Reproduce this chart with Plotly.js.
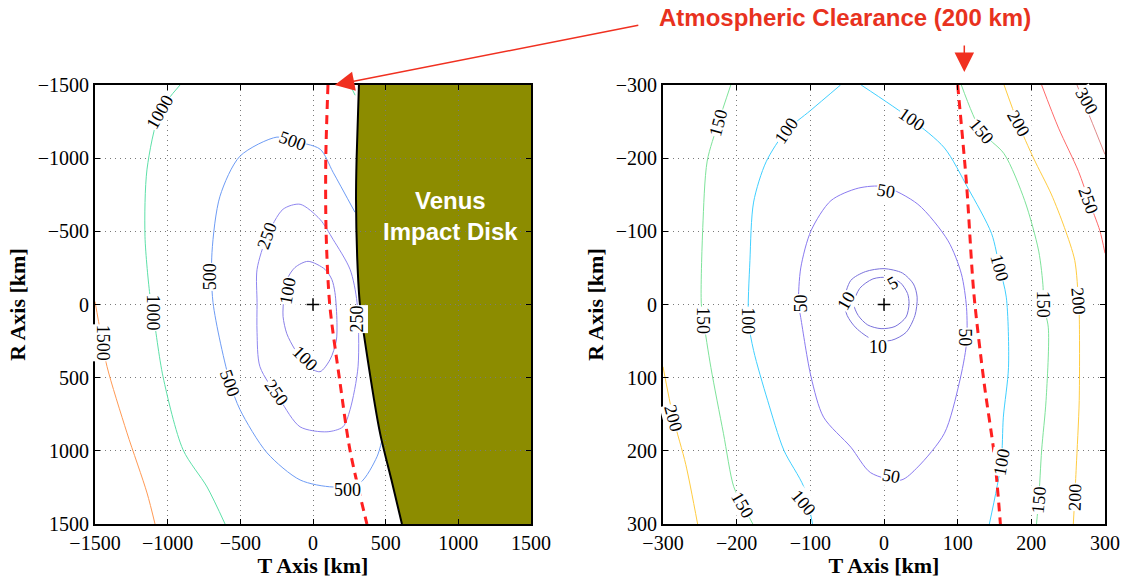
<!DOCTYPE html>
<html>
<head>
<meta charset="utf-8">
<script src="https://cdn.plot.ly/plotly-3.0.1.min.js"></script>
<style>html,body{margin:0;padding:0;background:#fff;}#chart{width:1125px;height:578px;}</style>
</head>
<body>
<div id="chart"></div>
<script>
// ---------- tick labels ----------
const leftTicks = [-1500, -1000, -500, 0, 500, 1000, 1500];
const rightTicks = [-300, -200, -100, 0, 100, 200, 300];

// ---------- LEFT PLOT contour lines (T, R in km) ----------
const L100_T = [-34, 83, 130, 151, 165, 160, 117, 48, -40, -124, -180, -206, -200, -179, -124, -34];
const L100_R = [-295, -240, -170, -82, 123, 250, 377, 459, 420, 308, 200, 82, -50, -171, -253, -295];

const L250_T = [-89, 48, 138, 255, 303, 310, 255, 206, 96, -89, -227, -365, -385, -385, -385, -316, -206, -89];
const L250_R = [-685, -582, -445, -240, -14, 425, 719, 836, 870, 836, 651, 425, 192, -14, -240, -466, -651, -685];

const L500_T = [289, 138, 48, -138, -248, -502, -640, -695, -688, -571, -502, -316, -89, 138, 323, 440, 475];
const L500_R = [-630, -904, -1062, -1117, -1144, -1014, -740, -356, -14, 534, 719, 1014, 1199, 1247, 1219, 1041, 925];

const L1000_T = [-915, -1053, -1142, -1156, -1121, -1101, -1032, -894, -729, -605];
const L1000_R = [-1500, -1315, -925, -466, -55, 55, 493, 993, 1247, 1500];
const L1000b_T = [255, 290];
const L1000b_R = [-1500, -1430];

const L1500_T = [-1500, -1460, -1417, -1280, -1142, -1087];
const L1500_R = [-20, 200, 425, 877, 1288, 1500];

// atmospheric clearance (200 km) line, left
const clearL_T = [103, 88, 90, 115, 186, 254, 371];
const clearL_R = [-1500, -1000, -500, 0, 534, 993, 1500];

// Venus impact disk boundary (left)
const diskT = [316, 300, 296, 305, 323, 380, 461, 540, 612];
const diskR = [-1500, -1000, -719, -300, 0, 400, 877, 1200, 1500];
const diskCornerT = [1500, 1500];
const diskCornerR = [1500, -1500];

// left contour labels
const leftLabT = [-1053, -1101, -1440, -138, -709, -316, -172, -55, -248, -571, 234, 303];
const leftLabR = [-1315, 55, 260, -1117, -192, -466, -89, 363, 603, 534, 1267, 103];
const leftLabText = ["1000", "1000", "1500", "500", "500", "250", "100", "100", "250", "500", "500", "250"];
const leftLabAng = [-60, 90, 90, 20, -90, -70, -80, 45, 55, 70, 0, -90];

// ---------- RIGHT PLOT contour lines ----------
const R5_T = [-41, -33, -15, 5, 22, 32, 34, 30, 15, -4, -22, -35, -41];
const R5_R = [-1, -22, -35, -37, -30, -15, -1, 17, 30, 33, 28, 15, -1];

const R10_T = [-54, -45, -25, 0, 25, 40, 45, 42, 30, 10, -15, -38, -50, -54];
const R10_R = [-5, -33, -45, -49, -43, -28, -10, 15, 38, 49, 48, 32, 15, -5];

const R50_T = [0, 46, 87, 105, 112, 112, 102, 82, 46, 23, -18, -45, -82, -99, -113, -116, -113, -99, -72, -35, 0];
const R50_R = [-161, -137, -87, -42, 4, 53, 108, 176, 222, 240, 230, 195, 154, 99, 18, -1, -50, -101, -142, -159, -161];

const R100a_T = [-59, -100, -133, -160, -177, -182, -184, -177, -158, -136, -109, -97];
const R100a_R = [-300, -265, -237, -195, -140, -60, 22, 63, 131, 199, 249, 300];
const R100b_T = [-31, 37, 82, 114, 146, 157, 166, 169, 162, 159, 143];
const R100b_R = [-300, -253, -214, -159, -97, -50, -10, 86, 154, 216, 300];

const R150a_T = [-208, -225, -240, -246, -248, -245, -235, -218, -204, -192, -178];
const R150a_R = [-300, -248, -196, -105, -1, 22, 86, 176, 249, 274, 300];
const R150b_T = [105, 132, 163, 191, 210, 216, 216, 223, 220, 214, 210, 207];
const R150b_R = [-300, -237, -206, -142, -73, -23, -1, 31, 131, 199, 267, 300];

const R200a_T = [-300, -286, -269, -253];
const R200a_R = [85, 155, 219, 300];
const R200b_T = [163, 182, 203, 227, 245, 259, 264, 265, 265, 261, 259, 257];
const R200b_R = [-300, -248, -200, -151, -105, -60, -5, 12, 131, 222, 263, 300];

const R250_T = [214, 237, 264, 278, 293, 300];
const R250_R = [-300, -241, -182, -142, -101, -70];

const R300_T = [262, 280, 300];
const R300_R = [-300, -255, -205];

// atmospheric clearance line, right
const clearR_T = [100, 112, 122, 136, 150, 158];
const clearR_R = [-300, -165, -15, 108, 208, 300];

// right contour labels
const rightLabT = [-225, -133, -245, -184, -113, -286, -192, -109, 37, 3, 132, 182, 275, 278, 157, 216, 264, 109, 159, 210, 259, 10, -52, -8, 12];
const rightLabR = [-248, -237, 22, 22, -1, 155, 274, 271, -253, -155, -237, -248, -278, -142, -50, -1, -5, 45, 216, 267, 263, 235, -5, 58, -30];
const rightLabText = ["150", "100", "150", "100", "50", "200", "150", "100", "100", "50", "150", "200", "300", "250", "100", "150", "200", "50", "100", "150", "200", "50", "10", "10", "5"];
const rightLabAng = [-75, -55, 90, 90, -90, 75, 60, 50, 35, 10, 50, 60, 60, 70, 75, 90, 85, 90, -80, -85, -88, 10, -60, 0, -30];

// ---------- build ----------
const C = {
  c5: '#7a72dc', c10: '#7a72dc', c50: '#8a7af0', c100L: '#8a80e8', c250L: '#8f86f0',
  c500L: '#6e9cf5', c1000L: '#5de0a8', c1500L: '#ff9a55',
  c100R: '#40d0ff', c150R: '#7ee39a', c200R: '#ffcc40', c250R: '#ff6a6a', c300R: '#e08a8a',
  red: '#ff2020'
};

function line(T, R, color, ax, w, dash) {
  return {type: 'scatter', mode: 'lines', x: T, y: R, xaxis: ax === 2 ? 'x2' : 'x', yaxis: ax === 2 ? 'y2' : 'y',
    line: {color: color, width: w || 1, shape: 'spline', smoothing: 0.8, dash: dash || 'solid'},
    hoverinfo: 'skip', showlegend: false, cliponaxis: true};
}

const traces = [
  line(L100_T, L100_R, C.c100L, 1),
  line(L250_T, L250_R, C.c250L, 1),
  line(L500_T, L500_R, C.c500L, 1),
  line(L1000_T, L1000_R, C.c1000L, 1),
  line(L1000b_T, L1000b_R, C.c1000L, 1),
  line(L1500_T, L1500_R, C.c1500L, 1),
  line(diskT, diskR, '#000000', 1, 2),
  line(clearL_T, clearL_R, C.red, 1, 3, '9px,6px'),
  {type: 'scatter', mode: 'markers', x: [0], y: [0], xaxis: 'x', yaxis: 'y',
   marker: {symbol: 'cross-thin', size: 9, line: {color: '#000', width: 1.5}}, showlegend: false, hoverinfo: 'skip'},

  line(R5_T, R5_R, C.c5, 2),
  line(R10_T, R10_R, C.c10, 2),
  line(R50_T, R50_R, C.c50, 2),
  line(R100a_T, R100a_R, C.c100R, 2),
  line(R100b_T, R100b_R, C.c100R, 2),
  line(R150a_T, R150a_R, C.c150R, 2),
  line(R150b_T, R150b_R, C.c150R, 2),
  line(R200a_T, R200a_R, C.c200R, 2),
  line(R200b_T, R200b_R, C.c200R, 2),
  line(R250_T, R250_R, C.c250R, 2),
  line(R300_T, R300_R, C.c300R, 2),
  line(clearR_T, clearR_R, C.red, 2, 3, '9px,6px'),
  {type: 'scatter', mode: 'markers', x: [0], y: [0], xaxis: 'x2', yaxis: 'y2',
   marker: {symbol: 'cross-thin', size: 9, line: {color: '#000', width: 1.5}}, showlegend: false, hoverinfo: 'skip'}
];

// disk fill path from boundary arrays
const polyT = diskT.concat(diskCornerT);
const polyR = diskR.concat(diskCornerR);
let path = 'M ' + polyT[0] + ',' + polyR[0];
for (let i = 1; i < polyT.length; i++) path += ' L ' + polyT[i] + ',' + polyR[i];
path += ' Z';

const serif = 'Liberation Serif, Times New Roman, serif';
const sans = 'Liberation Sans, Arial, sans-serif';

const annotations = [];
function addLabels(T, R, txt, ang, xr, yr) {
  for (let i = 0; i < T.length; i++) {
    annotations.push({x: T[i], y: R[i], xref: xr, yref: yr, text: txt[i], textangle: ang[i],
      showarrow: false, bgcolor: '#ffffff', borderpad: 0,
      font: {family: serif, size: 18, color: '#000'}});
  }
}
addLabels(leftLabT, leftLabR, leftLabText, leftLabAng, 'x', 'y');
addLabels(rightLabT, rightLabR, rightLabText, rightLabAng, 'x2', 'y2');

annotations.push({x: 943, y: -603, xref: 'x', yref: 'y', text: '<b>Venus<br>Impact Disk</b>', showarrow: false,
  font: {family: sans, size: 24, color: '#ffffff'}});
annotations.push({x: 0.751, y: 0.969, xref: 'paper', yref: 'paper', xanchor: 'center', yanchor: 'middle',
  text: '<b>Atmospheric Clearance (200 km)</b>',
  showarrow: false, font: {family: sans, size: 24, color: '#e8321e'}});
annotations.push({x: 150, y: -1500, xref: 'x', yref: 'y', text: '', showarrow: true, arrowhead: 2, arrowsize: 2.6,
  arrowwidth: 1.5, arrowcolor: '#f03020', ax: 305, ay: -60});
annotations.push({x: 109, y: 0.8754, xref: 'x2', yref: 'paper', text: '', showarrow: true, arrowhead: 2, arrowsize: 2.6,
  arrowwidth: 1.5, arrowcolor: '#f03020', ax: 0, ay: -28});

function xax(dom, ticks, anchor) {
  return {domain: dom, range: [ticks[0], ticks[ticks.length - 1]], tickvals: ticks, anchor: anchor,
    showgrid: true, gridcolor: '#7a7a7a', griddash: '1px,4px', gridwidth: 1, zeroline: false,
    showline: true, linecolor: '#000', linewidth: 2, mirror: 'ticks', ticks: 'inside', ticklen: 5, tickcolor: '#000',
    tickfont: {family: serif, size: 20, color: '#000'},
    title: {text: '<b>T Axis [km]</b>', font: {family: serif, size: 22, color: '#000'}, standoff: 0}};
}
function yax(dom, ticks, anchor) {
  return {domain: dom, range: [ticks[ticks.length - 1], ticks[0]], tickvals: ticks, anchor: anchor,
    showgrid: true, gridcolor: '#7a7a7a', griddash: '1px,4px', gridwidth: 1, zeroline: false,
    showline: true, linecolor: '#000', linewidth: 2, mirror: 'ticks', ticks: 'inside', ticklen: 5, tickcolor: '#000',
    tickfont: {family: serif, size: 20, color: '#000'},
    title: {text: '<b>R Axis [km]</b>', font: {family: serif, size: 22, color: '#000'}, standoff: 6}};
}

const yd = [1 - 524 / 578, 1 - 85 / 578];
const layout = {
  width: 1125, height: 578, margin: {l: 0, r: 0, t: 0, b: 0},
  paper_bgcolor: '#fff', plot_bgcolor: '#fff', showlegend: false,
  xaxis: xax([95 / 1125, 531 / 1125], leftTicks, 'y'),
  yaxis: yax(yd, leftTicks, 'x'),
  xaxis2: xax([663 / 1125, 1105 / 1125], rightTicks, 'y2'),
  yaxis2: yax(yd, rightTicks, 'x2'),
  shapes: [{type: 'path', path: path, xref: 'x', yref: 'y', layer: 'below', fillcolor: '#8c8c00', line: {width: 0}}],
  annotations: annotations
};

Plotly.newPlot('chart', traces, layout, {staticPlot: true, displayModeBar: false});
</script>
</body>
</html>
